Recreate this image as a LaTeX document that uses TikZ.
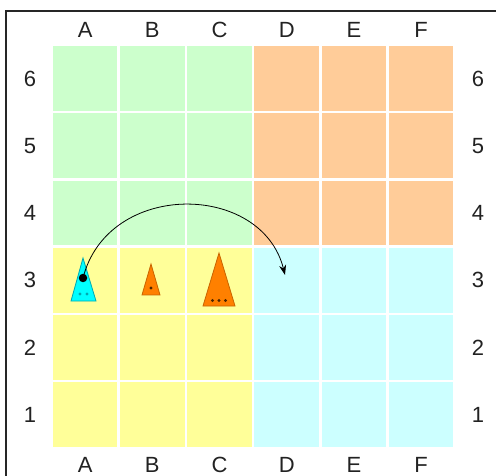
\documentclass[tikz,border=0pt]{standalone}
\usepackage{fontspec}
\setmainfont{Liberation Sans}
\usetikzlibrary{arrows.meta}
\definecolor{cgreen}{HTML}{CCFFCC}
\definecolor{corange}{HTML}{FFCC99}
\definecolor{cyellow}{HTML}{FFFF99}
\definecolor{ccyan}{HTML}{CCFFFF}
\definecolor{pcyan}{HTML}{00FFFF}
\definecolor{pcyanline}{HTML}{00A8B0}
\definecolor{porange}{HTML}{FF8000}
\definecolor{porangeline}{HTML}{C86400}
\definecolor{txt}{HTML}{222222}
\tikzset{
  lab/.style={font=\fontsize{22}{26}\selectfont, text=txt, inner sep=0pt},
  cellbox/.style={draw=none, inner sep=0pt, minimum width=64.7pt, minimum height=64.7pt},
  pip/.style={circle, inner sep=0pt, minimum size=3.2pt},
  piece/.style={line width=0.8pt, line join=miter},
}
\begin{document}
\begin{tikzpicture}[x=1pt,y=-1pt]
\useasboundingbox (0,0) rectangle (496,476);
% frame
\draw[line width=1.4pt, color=black!85] (6,480) -- (6,11) -- (500,11);
% cells
\foreach \i in {0,...,5}{
  \foreach \j in {0,...,5}{
    \pgfmathsetmacro{\cx}{51.5+(\i+0.5)*67.2}
    \pgfmathsetmacro{\cy}{45+(\j+0.5)*67.2}
    \ifnum\i<3
      \ifnum\j<3 \def\cc{cgreen}\else\def\cc{cyellow}\fi
    \else
      \ifnum\j<3 \def\cc{corange}\else\def\cc{ccyan}\fi
    \fi
    \node[cellbox, fill=\cc] (cell-\i-\j) at (\cx,\cy) {};
  }
}
% column labels
\foreach \l [count=\k from 0] in {A,B,C,D,E,F}{
  \pgfmathsetmacro{\cx}{51.5+(\k+0.5)*67.2}
  \node[lab] (top-\l) at (\cx,30) {\l};
  \node[lab] (bot-\l) at (\cx,465) {\l};
}
% row labels
\foreach \r [count=\k from 0] in {6,5,4,3,2,1}{
  \pgfmathsetmacro{\cy}{45+(\k+0.5)*67.2}
  \node[lab] (left-\r) at (30,\cy) {\r};
  \node[lab] (right-\r) at (478,\cy) {\r};
}
% cyan piece in A3
\filldraw[piece, fill=pcyan, draw=pcyanline] (83,258) -- (96,301) -- (71,301) -- cycle;
\node[pip, fill=pcyanline] (cp1) at (80,294) {};
\node[pip, fill=pcyanline] (cp2) at (87,294) {};
% small orange piece in B3
\filldraw[piece, fill=porange, draw=porangeline] (151,264) -- (160,295) -- (142,295) -- cycle;
\node[pip, fill=black!70!porange] (bp1) at (151,288) {};
% large orange piece in C3
\filldraw[piece, fill=porange, draw=porangeline] (219,253) -- (235,306) -- (203,306) -- cycle;
\node[pip, fill=black!70!porange] (lp1) at (212.5,300.5) {};
\node[pip, fill=black!70!porange] (lp2) at (219,300.5) {};
\node[pip, fill=black!70!porange] (lp3) at (225.5,300.5) {};
% move arrow
\node[circle, fill=black, inner sep=0pt, minimum size=8.5pt] (start) at (83,278) {};
\coordinate (target) at (285,275);
\draw[line width=0.8pt, -{Stealth[length=10pt,width=7pt]}] (start.center) .. controls (108,180) and (262,182) .. (target);
\end{tikzpicture}
\end{document}
